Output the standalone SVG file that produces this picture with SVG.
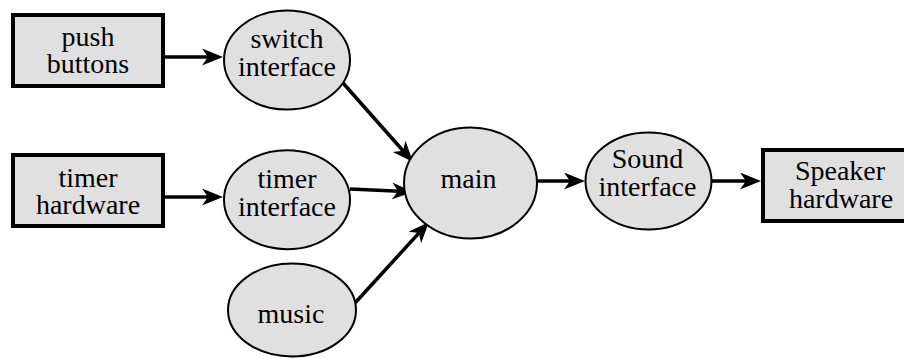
<svg xmlns="http://www.w3.org/2000/svg" width="904" height="358" viewBox="0 0 904 358">
<style>
.box{fill:#e0e0e0;stroke:#000;stroke-width:4}
.oval{fill:#e0e0e0;stroke:#000;stroke-width:2}
.t{font-family:'Liberation Serif','Times New Roman',serif;font-size:28px;fill:#000;text-anchor:middle}
.edge{stroke:#000;stroke-width:3.5;fill:none;marker-end:url(#ah)}
</style>
<defs>
<marker id="ah" markerUnits="userSpaceOnUse" markerWidth="22" markerHeight="18" refX="13" refY="8.5" orient="auto" viewBox="0 0 22 18">
<path d="M0,0 L21,8.5 L0,17 L6,8.5 Z" fill="#000"/>
</marker>
</defs>
<rect width="904" height="358" fill="#fff"/>
<g id="connectors">
<line class="edge" x1="165" y1="57" x2="215" y2="57"/>
<line class="edge" x1="165" y1="197" x2="215" y2="197"/>
<line class="edge" x1="343" y1="83" x2="407.7" y2="156"/>
<line class="edge" x1="350" y1="189" x2="405" y2="191.6"/>
<line class="edge" x1="355" y1="303" x2="423.6" y2="227.9"/>
<line class="edge" x1="537" y1="181" x2="577" y2="181"/>
<line class="edge" x1="712" y1="181" x2="753" y2="181"/>
</g>
<g id="push-buttons" class="t">
<rect class="box" x="13" y="15" width="150" height="71"/>
<text x="88" y="45.5">push</text>
<text x="88" y="72.5">buttons</text>
</g>
<g id="switch-interface" class="t">
<ellipse class="oval" cx="287" cy="60" rx="63" ry="49.5"/>
<text x="287" y="48">switch</text>
<text x="287" y="76">interface</text>
</g>
<g id="timer-hardware" class="t">
<rect class="box" x="13" y="155" width="150" height="71"/>
<text x="88" y="186.5">timer</text>
<text x="88" y="213.5">hardware</text>
</g>
<g id="timer-interface" class="t">
<ellipse class="oval" cx="287" cy="199.7" rx="63" ry="49.5"/>
<text x="287" y="188">timer</text>
<text x="287" y="216">interface</text>
</g>
<g id="music" class="t">
<ellipse class="oval" cx="292" cy="310" rx="64" ry="46.5"/>
<text x="291" y="323">music</text>
</g>
<g id="main" class="t">
<ellipse class="oval" cx="470.5" cy="183" rx="66.5" ry="55.5"/>
<text x="468.5" y="188">main</text>
</g>
<g id="sound-interface" class="t">
<ellipse class="oval" cx="648.5" cy="181" rx="63" ry="48.5"/>
<text x="647.5" y="168">Sound</text>
<text x="647.5" y="196">interface</text>
</g>
<g id="speaker-hardware" class="t">
<rect class="box" x="763" y="150" width="154" height="71"/>
<text x="840" y="180">Speaker</text>
<text x="841" y="208">hardware</text>
</g>
</svg>
